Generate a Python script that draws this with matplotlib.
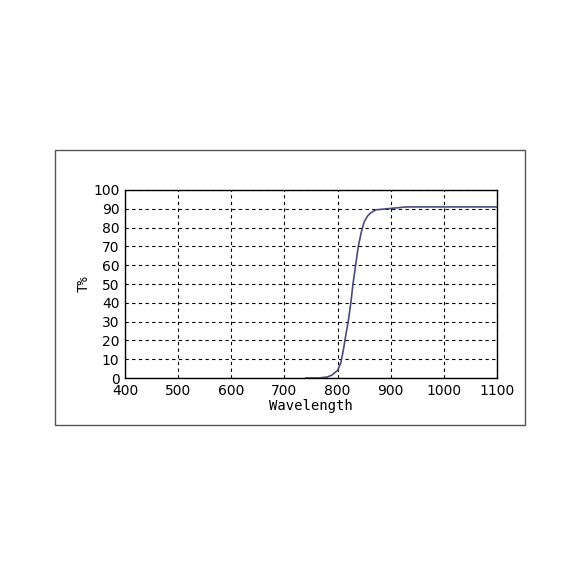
import matplotlib.pyplot as plt
from matplotlib.patches import Rectangle

wavelength = [740, 764, 780, 789, 800, 806, 811, 815, 820, 825, 829, 834, 839, 845, 850, 856, 861, 868, 873, 885, 900, 930, 1000, 1100]
transmission = [0, 0, 0.5, 1.5, 4, 8, 15, 22, 30, 40, 50, 60, 70, 78, 83, 86, 87.5, 88.8, 89.5, 89.8, 90.2, 91, 91, 91]

fig = plt.figure(figsize=(5.79, 5.79), dpi=100)
fig.patches.append(Rectangle((55 / 579, 1 - 425 / 579), 470 / 579, 275 / 579,
                             transform=fig.transFigure, fill=False, edgecolor='#555555', linewidth=1))
ax = fig.add_axes([125 / 579, 1 - 378 / 579, 372 / 579, 188 / 579])
ax.plot(wavelength, transmission, color='#4a4a80', linewidth=1.2)
ax.set_xlim(400, 1100)
ax.set_ylim(0, 100)
ax.set_xticks(range(400, 1101, 100))
ax.set_yticks(range(0, 101, 10))
ax.grid(True, linestyle=(0, (3, 3)), color='black', linewidth=0.8)
ax.tick_params(length=0, labelsize=10, pad=4)
for s in ax.spines.values():
    s.set_linewidth(1)
ax.set_xlabel("Wavelength", family='DejaVu Sans Mono', fontsize=10, labelpad=1)
ax.set_ylabel("T%", family='DejaVu Sans Mono', fontsize=10, labelpad=2)
fig.savefig("out.png")
